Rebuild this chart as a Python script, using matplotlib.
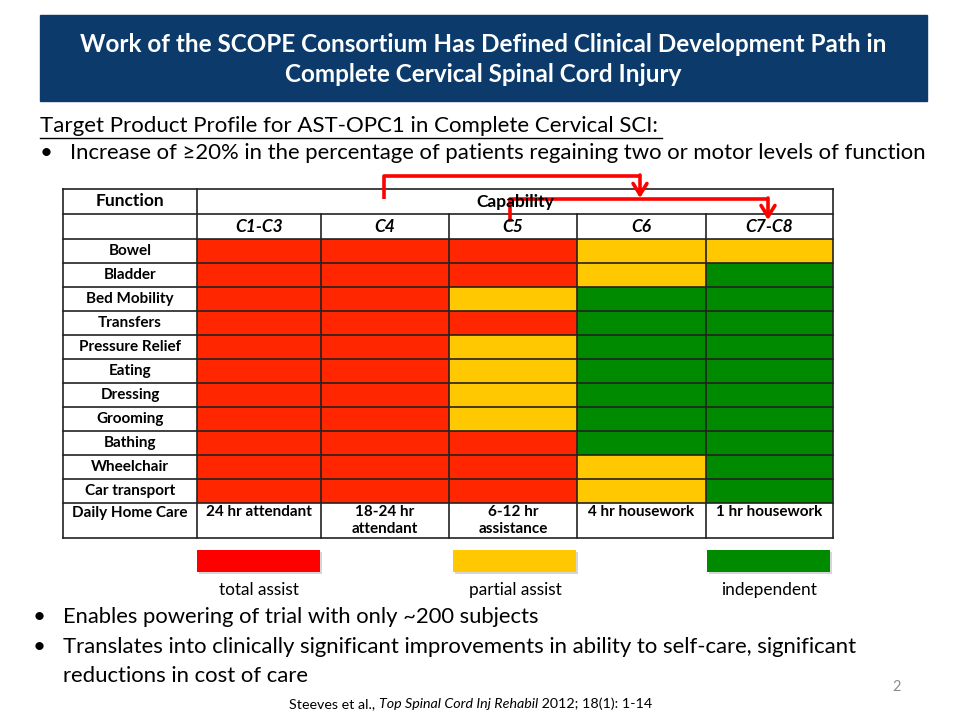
import matplotlib.pyplot as plt
from matplotlib.patches import Rectangle

plt.rcParams['font.family'] = ['Lato', 'DejaVu Sans']

RED = "#ff2600"
YELLOW = "#ffc800"
GREEN = "#008a00"
colour_of = {"R": RED, "Y": YELLOW, "G": GREEN}

levels = ["C1-C3", "C4", "C5", "C6", "C7-C8"]
functions = ["Bowel", "Bladder", "Bed Mobility", "Transfers", "Pressure Relief",
             "Eating", "Dressing", "Grooming", "Bathing", "Wheelchair", "Car transport"]
# R = total assist, Y = partial assist, G = independent
capability = [
    ["R", "R", "R", "Y", "Y"],
    ["R", "R", "R", "Y", "G"],
    ["R", "R", "Y", "G", "G"],
    ["R", "R", "R", "G", "G"],
    ["R", "R", "Y", "G", "G"],
    ["R", "R", "Y", "G", "G"],
    ["R", "R", "Y", "G", "G"],
    ["R", "R", "Y", "G", "G"],
    ["R", "R", "R", "G", "G"],
    ["R", "R", "R", "Y", "G"],
    ["R", "R", "R", "Y", "G"],
]
home_care = ["24 hr attendant", "18-24 hr\nattendant", "6-12 hr\nassistance",
             "4 hr housework", "1 hr housework"]
legend_labels = ["total assist", "partial assist", "independent"]

fig = plt.figure(figsize=(9.58, 7.19), dpi=100)
ax = fig.add_axes([0, 0, 1, 1])
ax.set_xlim(0, 958)
ax.set_ylim(719, 0)
ax.axis("off")

# title banner
ax.add_patch(Rectangle((40, 15), 887, 86, color="#0b3a6b"))
ax.text(483, 44, "Work of the SCOPE Consortium Has Defined Clinical Development Path in",
        color="white", fontsize=17.5, fontweight="bold", ha="center", va="center")
ax.text(483, 75, "Complete Cervical Spinal Cord Injury",
        color="white", fontsize=17.5, fontweight="bold", ha="center", va="center")

ax.text(40, 126, "Target Product Profile for AST-OPC1 in Complete Cervical SCI:",
        fontsize=16, ha="left", va="center")
ax.plot([40, 662], [138, 138], color="black", lw=1)
ax.text(40, 153, "\u2022", fontsize=16, ha="left", va="center")
ax.text(70, 153, "Increase of \u226520% in the percentage of patients regaining two or motor levels of function",
        fontsize=15.9, ha="left", va="center")

# table geometry
col_x = [63, 197, 321, 449, 577, 706, 833]
top = 189
row_h = 24
row_y = [239 + i * row_h for i in range(len(functions) + 1)]
bottom = 538
line_c = "#222222"

for i, fn in enumerate(functions):
    for j, c in enumerate(capability[i]):
        ax.add_patch(Rectangle((col_x[j + 1], row_y[i]), col_x[j + 2] - col_x[j + 1], row_h,
                               color=colour_of[c], lw=0))
    ax.text((col_x[0] + col_x[1]) / 2, row_y[i] + row_h / 2, fn, fontsize=11,
            fontweight="bold", ha="center", va="center")

ax.text((col_x[0] + col_x[1]) / 2, 201, "Function", fontsize=12.5, fontweight="bold",
        ha="center", va="center")
ax.text((col_x[1] + col_x[-1]) / 2, 202, "Capability", fontsize=12.5, fontweight="bold",
        ha="center", va="center")
for j, lv in enumerate(levels):
    ax.text((col_x[j + 1] + col_x[j + 2]) / 2, 227, lv, fontsize=12.5, fontweight="bold",
            style="italic", ha="center", va="center")
ax.text((col_x[0] + col_x[1]) / 2, 513, "Daily Home Care", fontsize=11,
        fontweight="bold", ha="center", va="center")
for j, hc in enumerate(home_care):
    ax.text((col_x[j + 1] + col_x[j + 2]) / 2, 505, hc, fontsize=11, fontweight="bold",
            ha="center", va="top", linespacing=1.3)

# grid lines
for y in [top, 214] + row_y + [bottom]:
    ax.plot([col_x[0], col_x[-1]], [y, y], color=line_c, lw=1.2)
for k, x in enumerate(col_x):
    y0 = top if k in (0, 1, len(col_x) - 1) else 214
    ax.plot([x, x], [y0, bottom], color=line_c, lw=1.2)

# arrows
arrow_c = "#ff0000"
ax.plot([384, 384, 640], [199, 176, 176], color=arrow_c, lw=2.6, solid_capstyle="butt")
ax.annotate("", xy=(640, 198), xytext=(640, 175),
            arrowprops=dict(arrowstyle="->,head_length=0.8,head_width=0.5",
                            color=arrow_c, lw=2.6, shrinkA=0, shrinkB=0))
ax.plot([510, 510, 768], [222, 199, 199], color=arrow_c, lw=2.6, solid_capstyle="butt")
ax.annotate("", xy=(768, 220), xytext=(768, 198),
            arrowprops=dict(arrowstyle="->,head_length=0.8,head_width=0.5",
                            color=arrow_c, lw=2.6, shrinkA=0, shrinkB=0))

# legend
legend_cols = ["#ff0000", YELLOW, GREEN]
legend_x = [197, 453, 707]
for lx, lc, lab in zip(legend_x, legend_cols, legend_labels):
    ax.add_patch(Rectangle((lx + 2, 552), 123, 22, color="#999999", alpha=0.4, lw=0))
    ax.add_patch(Rectangle((lx, 550), 123, 22, color=lc, lw=0))
    ax.text(lx + 62, 590, lab, fontsize=12.4, ha="center", va="center")

# lower bullets
ax.text(33, 617, "\u2022", fontsize=16, ha="left", va="center")
ax.text(63, 617, "Enables powering of trial with only ~200 subjects", fontsize=15.8,
        ha="left", va="center")
ax.text(33, 647, "\u2022", fontsize=16, ha="left", va="center")
ax.text(63, 647, "Translates into clinically significant improvements in ability to self-care, significant",
        fontsize=15.9, ha="left", va="center")
ax.text(63, 676, "reductions in cost of care", fontsize=15.9, ha="left", va="center")

ax.text(897, 687, "2", fontsize=10.5, color="#8c8c8c", ha="center", va="center")
first = ax.text(289, 704, "Steeves et al., ", fontsize=10.3, ha="left", va="center")
cite = ax.annotate("Top Spinal Cord Inj Rehabil", xy=(1, 0.5), xycoords=first,
                   fontsize=10.3, style="italic", va="center", ha="left")
ax.annotate(" 2012; 18(1): 1-14", xy=(1, 0.5), xycoords=cite, fontsize=10.3,
            va="center", ha="left")

fig.savefig("out.png", dpi=100)
